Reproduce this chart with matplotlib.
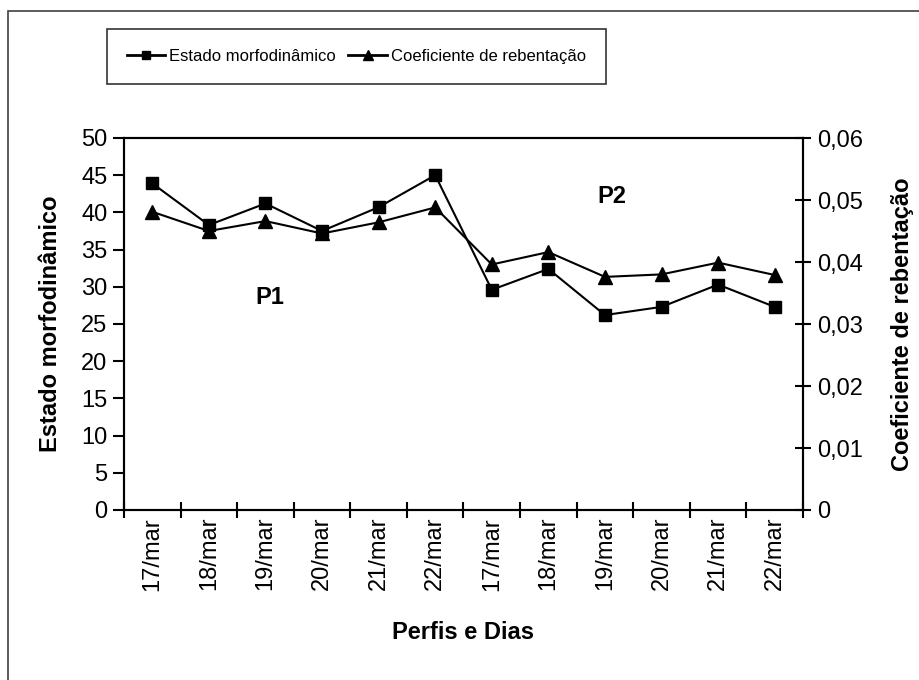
import numpy as np
import matplotlib
matplotlib.use("Agg")
from matplotlib import pyplot as plt
from matplotlib.patches import Rectangle

plt.rcParams['font.family'] = ['Liberation Sans', 'DejaVu Sans']

# data
dias = ['17/mar', '18/mar', '19/mar', '20/mar', '21/mar', '22/mar',
        '17/mar', '18/mar', '19/mar', '20/mar', '21/mar', '22/mar']
estado = [43.9, 38.3, 41.2, 37.5, 40.7, 45.0, 29.6, 32.4, 26.2, 27.3, 30.3, 27.3]
coef = [0.0481, 0.0450, 0.0466, 0.0446, 0.0464, 0.0488,
        0.0396, 0.0416, 0.0376, 0.0380, 0.0399, 0.0379]

W, H = 920, 680
fig = plt.figure(figsize=(W / 100, H / 100), dpi=100)

# outer frame (cut off on right/bottom in the reference)
fig.patches.append(Rectangle((8 / W, -0.1), 1.2, 1 - 11 / H + 0.1, transform=fig.transFigure,
                             fill=False, edgecolor='#404040', lw=1.2))

ax = fig.add_axes([124 / W, (H - 510) / H, (803 - 124) / W, (510 - 138) / H])
ax2 = ax.twinx()

x = np.arange(len(dias))
l1, = ax.plot(x, estado, color='black', lw=1.5, marker='s', ms=8.5)
l2, = ax2.plot(x, coef, color='black', lw=1.5, marker='^', ms=10)

ax.set_xlim(-0.5, len(dias) - 0.5)
ax.set_ylim(0, 50)
ax.set_yticks(np.arange(0, 51, 5))
ax2.set_ylim(0, 0.06)
ax2.set_yticks(np.arange(0, 0.061, 0.01))
ax2.set_yticklabels(['0', '0,01', '0,02', '0,03', '0,04', '0,05', '0,06'])

ax.set_xticks(np.arange(-0.5, len(dias), 1.0))
ax.set_xticklabels([])
ax.set_xticks(x, minor=True)
ax.set_xticklabels(dias, minor=True, rotation=90)
ax.tick_params(axis='x', which='major', direction='inout', length=12, width=1.5)
ax.tick_params(axis='x', which='minor', length=0, pad=5, labelsize=17)
ax.tick_params(axis='y', direction='out', length=8, width=1.5, labelsize=17, pad=4)
ax2.tick_params(axis='y', direction='inout', length=12, width=1.5, labelsize=17, pad=4)

for a in (ax, ax2):
    for s in a.spines.values():
        s.set_linewidth(1.5)

ax.set_ylabel('Estado morfodinâmico', fontsize=17, fontweight='bold', labelpad=14)
ax2.set_ylabel('Coeficiente de rebentação', fontsize=17, fontweight='bold', labelpad=20)
ax.set_xlabel('Perfis e Dias', fontsize=17, fontweight='bold', labelpad=22)

ax.text(2.08, 28.5, 'P1', fontsize=17, fontweight='bold', ha='center', va='center')
ax2.text(8.12, 0.0505, 'P2', fontsize=17, fontweight='bold', ha='center', va='center')

leg = fig.legend([l1, l2], ['Estado morfodinâmico', 'Coeficiente de rebentação'],
                 loc='center', bbox_to_anchor=(107 / W, (H - 86) / H, 499 / W, 59 / H),
                 mode='expand', ncol=2, prop={'size': 12}, frameon=True, fancybox=False,
                 edgecolor='black', handlelength=2.3, columnspacing=1.5, borderpad=1.2,
                 handletextpad=0.25, markerscale=0.65, borderaxespad=0)
leg.get_frame().set_linewidth(1.2)
for ln in leg.get_lines():
    ln.set_linewidth(2)

fig.savefig('out.png', dpi=100)
